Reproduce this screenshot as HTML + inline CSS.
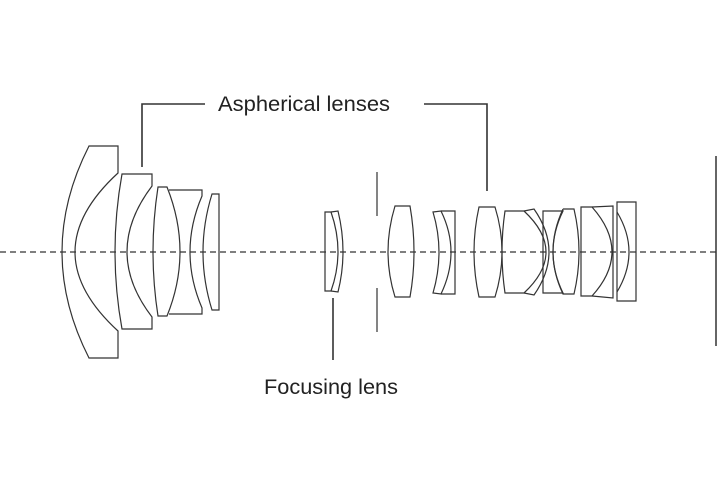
<!DOCTYPE html>
<html><head><style>body{margin:0;background:#fff}svg{display:block}</style></head><body>
<svg width="720" height="480" viewBox="0 0 720 480" xmlns="http://www.w3.org/2000/svg">
<rect width="720" height="480" fill="#fff"/>
<g fill="none" stroke="#333" stroke-width="1.2">
<line x1="0" y1="252" x2="720" y2="252" stroke-dasharray="6,4"/>
<line x1="716" y1="156" x2="716" y2="346" stroke-width="1.5"/>
<polyline points="205,104 142,104 142,167" stroke-width="1.6"/>
<polyline points="424,104 487,104 487,191" stroke-width="1.6"/>
<line x1="333" y1="298" x2="333" y2="360" stroke-width="1.6"/>
<line x1="377" y1="172" x2="377" y2="216"/>
<line x1="377" y1="288" x2="377" y2="332"/>
<path d="M89,146 L118,146 L118,173 Q32,252 118,331 L118,358 L89,358 Q35,252 89,146 Z"/>
<path d="M122,174 L152,174 L152,186 Q102,252 152,317 L152,329 L122,329 Q108,252 122,174 Z"/>
<path d="M158,187 L167,187 Q193,252 167,316 L158,316 Q148,252 158,187 Z"/>
<path d="M169,190 L202,190 L202,196 Q178,252 202,308 L202,314 L169,314"/>
<path d="M212,194 L219,194 L219,310 L212,310 Q194,252 212,194 Z"/>
<path d="M325,212 L331,212 Q345,252 331,291 L325,291 Z"/>
<path d="M331,212 L338,211 Q348,252 338,292 L331,291"/>
<path d="M395,206 L410,206 Q418,252 410,297 L395,297 Q381,252 395,206 Z"/>
<path d="M433,212 L441,211 Q461,252 441,294 L433,293 Q445,252 433,212 Z"/>
<path d="M441,211 L455,211 L455,294 L441,294"/>
<path d="M479,207 L495,207 Q509,252 495,297 L479,297 Q469,252 479,207 Z"/>
<path d="M505,211 L524,211 Q568,252 524,293 L505,293 Q499,252 505,211 Z"/>
<path d="M524,211 L534,209 Q564,252 534,295 L524,293"/>
<path d="M543,211 L563,211 Q543,252 563,293 L543,293 Z"/>
<path d="M563,209 L574,209 Q584,252 574,294 L563,294 Q543,252 563,209"/>
<path d="M581,207 L592,207 Q632,252 592,296 L581,296 Z"/>
<path d="M592,207 L613,206 L613,298 L592,296"/>
<path d="M617,202 L636,202 L636,301 L617,301 Z"/>
<path d="M617,212 Q641,252 617,292"/>
</g>
<g font-family="Liberation Sans, sans-serif" font-size="21" fill="#222">
<text x="218" y="111" textLength="172" lengthAdjust="spacingAndGlyphs">Aspherical lenses</text>
<text x="264" y="394" textLength="134" lengthAdjust="spacingAndGlyphs">Focusing lens</text>
</g>
</svg>
</body></html>
